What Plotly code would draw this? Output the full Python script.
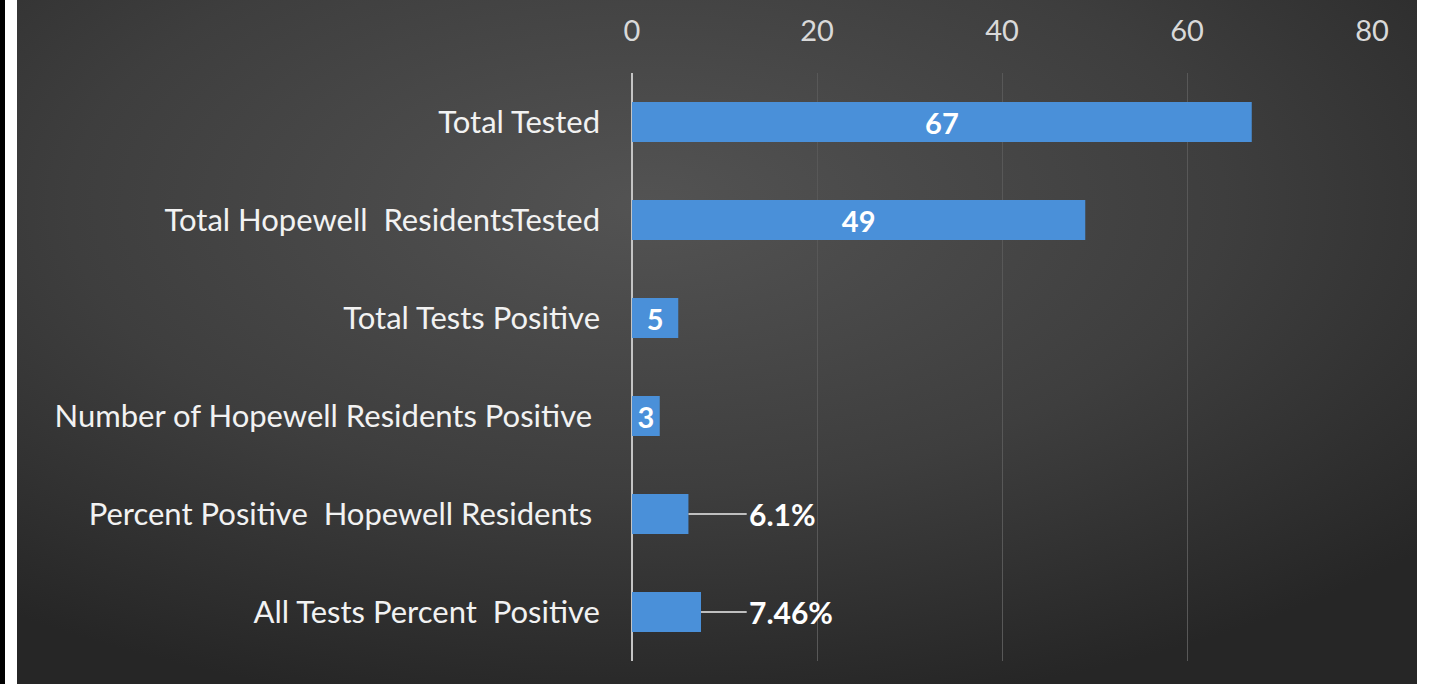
import base64
import plotly.graph_objects as go

categories = [
    "Total Tested",
    "Total Hopewell  ResidentsTested",
    "Total Tests Positive",
    "Number of Hopewell Residents Positive ",
    "Percent Positive  Hopewell Residents ",
    "All Tests Percent  Positive",
]
values = [67, 49, 5, 3, 6.1, 7.46]
value_labels = ["67", "49", "5", "3", "6.1%", "7.46%"]
inside_flags = [True, True, True, True, False, False]
x_ticks = [0, 20, 40, 60, 80]

W, H = 1430, 684
L, R, T, B = 632, 58, 73, 23
PW, PH = W - L - R, H - T - B


def px_x(p):
    return (p - L) / PW


def px_y(p):
    return (H - B - p) / PH


svg = f"""<svg xmlns='http://www.w3.org/2000/svg' width='1400' height='684' viewBox='0 0 1400 684' preserveAspectRatio='none'>
<defs><radialGradient id='g' cx='0.45' cy='0.3' r='0.75' gradientUnits='objectBoundingBox'>
<stop offset='0' stop-color='#535353'/><stop offset='0.55' stop-color='#3e3e3e'/><stop offset='1' stop-color='#262626'/>
</radialGradient></defs><rect width='1400' height='684' fill='url(#g)'/></svg>"""
src = "data:image/svg+xml;base64," + base64.b64encode(svg.encode()).decode()

fig = go.Figure()
fig.add_trace(go.Bar(
    x=values,
    y=categories,
    orientation="h",
    marker=dict(color="#4a90d9", line=dict(width=0)),
    text=[t if f else "" for t, f in zip(value_labels, inside_flags)],
    textposition=["inside" if f else "none" for f in inside_flags],
    insidetextanchor="middle",
    constraintext="none",
    textangle=0,
    textfont=dict(family="Lato", size=29, color="white", weight="bold"),
    width=0.41,
    hoverinfo="skip",
))

for c, v, t, f in zip(categories, values, value_labels, inside_flags):
    if not f:
        fig.add_annotation(
            x=v, y=c, xref="x", yref="y",
            ax=12.4, ay=c, axref="x", ayref="y",
            text=f"<b>{t}</b>",
            xanchor="left",
            showarrow=True, arrowhead=0, arrowwidth=2, arrowcolor="#bfbfbf",
            standoff=0, startstandoff=0,
            font=dict(family="Lato", size=30, color="white"),
        )

fig.add_layout_image(dict(
    source=src, xref="paper", yref="paper",
    x=px_x(17), y=px_y(0), sizex=1400 / PW, sizey=H / PH,
    xanchor="left", yanchor="top", sizing="stretch", layer="below",
))
fig.add_shape(type="rect", xref="paper", yref="paper",
              x0=px_x(0), x1=px_x(5), y0=px_y(H), y1=px_y(0),
              fillcolor="black", line=dict(width=0), layer="below")

fig.update_layout(
    width=W, height=H,
    margin=dict(l=L, r=R, t=T, b=B, autoexpand=False),
    paper_bgcolor="white",
    plot_bgcolor="rgba(0,0,0,0)",
    showlegend=False,
    xaxis=dict(
        side="top", range=[0, 80], tickvals=x_ticks, automargin=False,
        tickfont=dict(family="Lato", size=29, color="#d9d9d9"),
        showgrid=True, gridcolor="#585858", gridwidth=1,
        zeroline=True, zerolinecolor="#c4c4c4", zerolinewidth=2,
        ticks="", ticklabelstandoff=25, fixedrange=True,
    ),
    yaxis=dict(
        autorange="reversed", showgrid=False, zeroline=False, automargin=False,
        tickfont=dict(family="Lato", size=31, color="#f2f2f2"),
        ticks="", ticklabelstandoff=31, fixedrange=True,
    ),
)

fig.write_html("out.html", config={"displayModeBar": False},
               post_script="document.body.style.margin='0';")
